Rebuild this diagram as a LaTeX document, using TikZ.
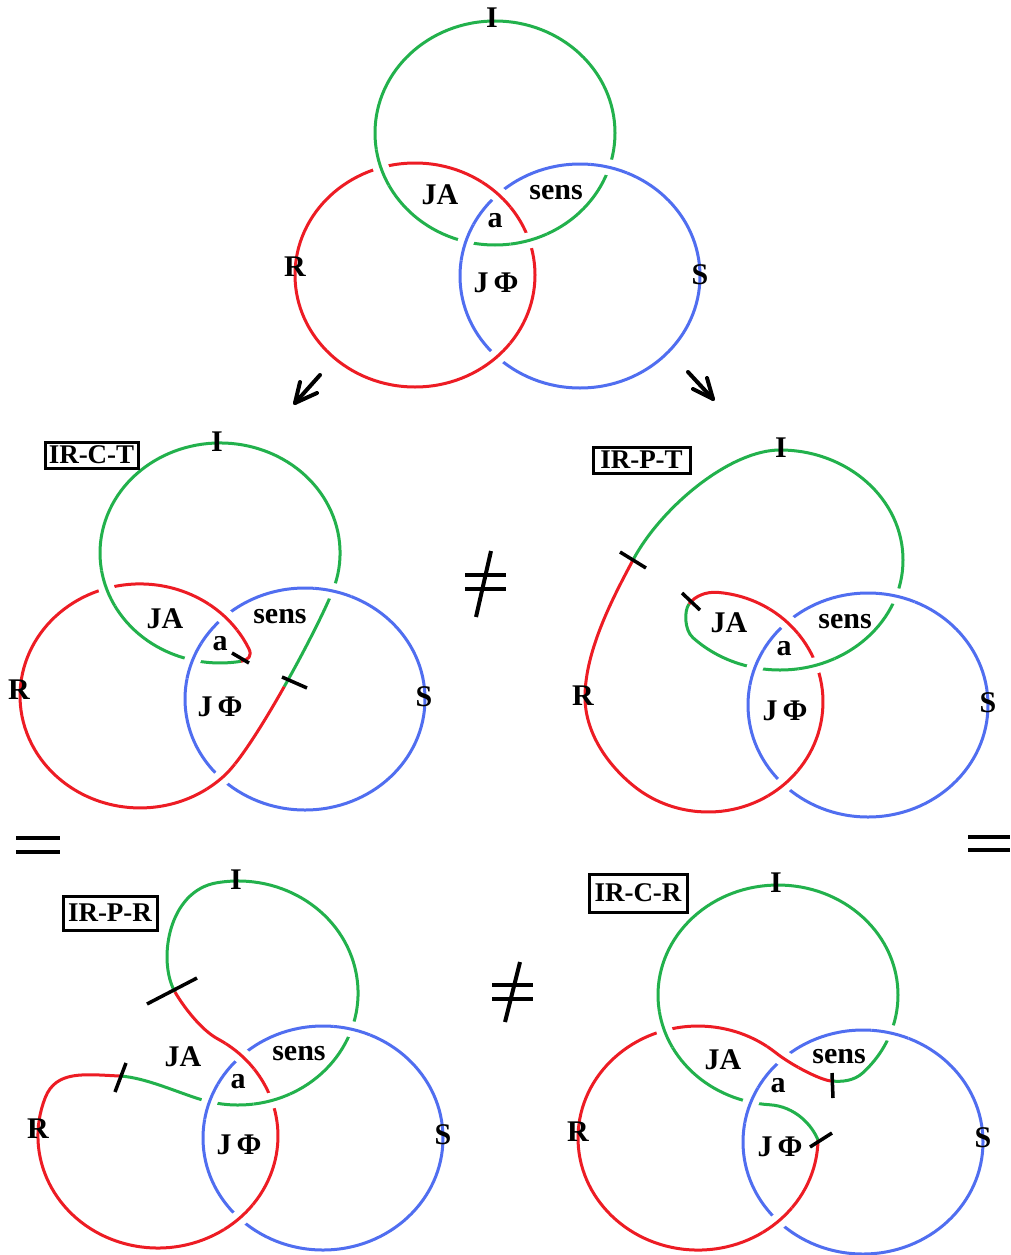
\documentclass[tikz,border=0pt]{standalone}
\usepackage{fontspec}
\setmainfont{Liberation Serif}
\definecolor{kgreen}{RGB}{34,177,76}
\definecolor{kred}{RGB}{237,28,36}
\definecolor{kblue}{RGB}{80,110,240}
\newcommand\crossat[3]{\begin{scope}\clip #1 circle (19);\draw[halo] #3;\draw[#2] #3;\end{scope}}
\begin{document}
\begin{tikzpicture}[x=1pt,y=-1pt,
  lw/.style={line width=3pt},
  gc/.style={lw, draw=kgreen},
  rc/.style={lw, draw=kred},
  bc/.style={lw, draw=kblue},
  halo/.style={draw=white, line width=16pt},
  tickmark/.style={draw=black, line width=3.5pt},
  lbl/.style={font=\bfseries\fontsize{30}{32}\selectfont, inner sep=0pt},
  boxlbl/.style={draw=black, line width=3pt, font=\bfseries\fontsize{27}{29}\selectfont, inner sep=0pt},
  sym/.style={line width=4.5pt},
  arr/.style={line width=4pt, line cap=round, line join=round}]
\useasboundingbox[fill=white] (0,0) rectangle (1011,1255);

% ---------- top panel ----------
\def\PaG{(495,133) ellipse [x radius=120, y radius=112]}
\def\PaR{(415,275) ellipse [x radius=120, y radius=112]}
\def\PaB{(580,276) ellipse [x radius=120, y radius=112]}
\draw[gc] \PaG; \draw[rc] \PaR; \draw[bc] \PaB;
\crossat{(381,168)}{gc}{\PaG}
\crossat{(529,240)}{gc}{\PaG}
\crossat{(466,242)}{bc}{\PaB}
\crossat{(609,167)}{bc}{\PaB}
\crossat{(497,194)}{rc}{\PaR}
\crossat{(497,357)}{rc}{\PaR}

% ---------- IR-C-T ----------
\def\PbB{(305,699) ellipse [x radius=120, y radius=111]}
\def\PbG{(284.2,686.7) .. controls (305.7,648.65) and (325.4,609.3) .. (332.8,590.6) arc[start angle=20, end angle=-280, x radius=120, y radius=110]}
\def\PbR{(240.8,661.3) .. controls (248.7,660) and (252.4,655.7) .. (248.8,648.6) arc[start angle=-25, end angle=-315, x radius=120, y radius=112] .. controls (239.45,761.6) and (262.7,724.8) .. (284.2,686.7)}
\draw[gc] \PbG; \draw[rc] \PbR; \draw[bc] \PbB;
\crossat{(333,591)}{bc}{\PbB}
\crossat{(192,660)}{bc}{\PbB}
\crossat{(224,616)}{rc}{\PbR}
\crossat{(222,778)}{rc}{\PbR}
\crossat{(106,589)}{gc}{\PbG}
\draw[tickmark] (232,653) -- (249,663);
\draw[tickmark] (282,677) -- (307,688);

% ---------- IR-P-T ----------
\def\PcB{(868,705) ellipse [x radius=120, y radius=112]}
\def\PcG{(633,560) .. controls (661.2,507.2) and (730,450) .. (780,450) arc[start angle=-90, end angle=135, x radius=123, y radius=110] .. controls (684,629.8) and (684.2,610.4) .. (689,604)}
\def\PcR{(689,604) .. controls (695,596) and (706,591.4) .. (718,592.4) arc[start angle=-85, end angle=130, x radius=115, y radius=110] .. controls (606.8,764.3) and (585,732) .. (585,697) .. controls (585,650) and (614.2,595.2) .. (633,560)}
\draw[gc] \PcG; \draw[rc] \PcR; \draw[bc] \PcB;
\crossat{(897,595)}{bc}{\PcB}
\crossat{(755,667)}{bc}{\PcB}
\crossat{(783,622)}{rc}{\PcR}
\crossat{(783,784)}{rc}{\PcR}
\crossat{(817,666)}{gc}{\PcG}
\draw[tickmark] (620,552) -- (646,568);
\draw[tickmark] (682,593) -- (700,610);

% ---------- IR-P-R ----------
\def\PdB{(323,1138) ellipse [x radius=120, y radius=112]}
\def\PdG{(175,992) .. controls (157.5,961.5) and (167.6,890.7) .. (217.2,882.7) arc[start angle=-100, end angle=108, x radius=120, y radius=112] .. controls (177,1092.2) and (145,1077.5) .. (120,1076)}
\def\PdR{(120,1076) .. controls (85,1074.5) and (56.1,1069.8) .. (45.2,1097.7) arc[start angle=-160, end angle=-420, x radius=120, y radius=112] .. controls (200.4,1029.6) and (182.5,1005) .. (175,992)}
\draw[gc] \PdG; \draw[rc] \PdR; \draw[bc] \PdB;
\crossat{(352,1029)}{bc}{\PdB}
\crossat{(209,1101)}{bc}{\PdB}
\crossat{(240,1056)}{rc}{\PdR}
\crossat{(240,1219)}{rc}{\PdR}
\crossat{(272,1100)}{gc}{\PdG}
\draw[tickmark] (147,1004) -- (197,978);
\draw[tickmark] (126,1063) -- (115,1092);

% ---------- IR-C-R ----------
\def\PeB{(863,1142) ellipse [x radius=120, y radius=112]}
\def\PeG{(832,1081) .. controls (842,1082) and (854,1080.9) .. (862.85,1072.8) arc[start angle=45, end angle=-266, x radius=120, y radius=110] .. controls (795,1106.3) and (812,1125) .. (818,1140)}
\def\PeR{(818,1140) arc[start angle=1, end angle=310, x radius=120, y radius=112] .. controls (791,1065) and (822,1081) .. (832,1081)}
\draw[gc] \PeG; \draw[rc] \PeR; \draw[bc] \PeB;
\crossat{(665,1030)}{gc}{\PeG}
\crossat{(750,1105)}{bc}{\PeB}
\crossat{(890,1034)}{bc}{\PeB}
\crossat{(782,1058)}{rc}{\PeR}
\crossat{(778,1221)}{rc}{\PeR}
\draw[tickmark] (832,1073) -- (833,1098);
\draw[tickmark] (810,1147) -- (832,1133);

% ---------- arrows ----------
\coordinate (la0) at (320,375); \coordinate (la1) at (295,403);
\coordinate (ra0) at (688,372); \coordinate (ra1) at (713,399);
\draw[arr] (la0) -- (la1);
\draw[arr] (300,382) -- (la1) -- (317,393);
\draw[arr] (ra0) -- (ra1);
\draw[arr] (707,378) -- (ra1) -- (693,389);

% ---------- relation symbols ----------
\draw[sym] (465,575) -- (506,575); \draw[sym] (465,589) -- (506,589);
\draw[line width=4pt] (491,551) -- (476,617);
\draw[sym] (492,985) -- (533,985); \draw[sym] (492,999) -- (533,999);
\draw[line width=4pt] (520,962) -- (505,1022);
\draw[sym] (16,838) -- (60,838); \draw[sym] (16,852) -- (60,852);
\draw[sym] (968,837) -- (1010,837); \draw[sym] (968,850) -- (1010,850);

% ---------- labels ----------
\node[lbl] (aI) at (492,18) {I};
\node[lbl] (aR) at (295,267) {R};
\node[lbl] (aS) at (700,275) {S};
\node[lbl] (aJA) at (440,195) {JA};
\node[lbl] (aa) at (495,221) {a};
\node[lbl] (asens) at (556,193) {sens};
\node[lbl] (aJP) at (496,283) {J\,Φ};

\node[boxlbl, minimum width=93pt, minimum height=26pt] (bbox) at (91.5,455) {IR-C-T};
\node[lbl] (bI) at (217,442) {I};
\node[lbl] (bR) at (19,690) {R};
\node[lbl] (bS) at (424,697) {S};
\node[lbl] (bJA) at (165,619) {JA};
\node[lbl] (ba) at (220,644) {a};
\node[lbl] (bsens) at (280,617) {sens};
\node[lbl] (bJP) at (220,707) {J\,Φ};

\node[boxlbl, minimum width=97pt, minimum height=26pt] (cbox) at (641.5,460) {IR-P-T};
\node[lbl] (cI) at (781,448) {I};
\node[lbl] (cR) at (583,696) {R};
\node[lbl] (cS) at (988,703) {S};
\node[lbl] (cJA) at (729,623) {JA};
\node[lbl] (ca) at (784,649) {a};
\node[lbl] (csens) at (845,622) {sens};
\node[lbl] (cJP) at (785,711) {J\,Φ};

\node[boxlbl, minimum width=94pt, minimum height=34pt] (dbox) at (110,913) {IR-P-R};
\node[lbl] (dI) at (236,880) {I};
\node[lbl] (dR) at (38,1129) {R};
\node[lbl] (dS) at (443,1135) {S};
\node[lbl] (dJA) at (183,1057) {JA};
\node[lbl] (da) at (238,1082) {a};
\node[lbl] (dsens) at (299,1054) {sens};
\node[lbl] (dJP) at (239,1145) {J\,Φ};

\node[boxlbl, minimum width=98pt, minimum height=38pt] (ebox) at (638,893) {IR-C-R};
\node[lbl] (eI) at (776,883) {I};
\node[lbl] (eR) at (578,1132) {R};
\node[lbl] (eS) at (983,1138) {S};
\node[lbl] (eJA) at (723,1060) {JA};
\node[lbl] (ea) at (778,1086) {a};
\node[lbl] (esens) at (839,1057) {sens};
\node[lbl] (eJP) at (780,1147) {J\,Φ};
\end{tikzpicture}
\end{document}
